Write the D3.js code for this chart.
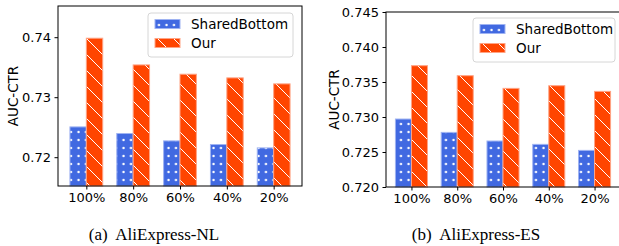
<!DOCTYPE html>
<html>
<head>
<meta charset="utf-8">
<script src="https://cdn.jsdelivr.net/npm/d3@7"></script>
<style>
  body { margin: 0; background: #fff; }
  svg { display: block; }
  text { font-family: "DejaVu Sans", sans-serif; fill: #000; }
</style>
</head>
<body>
<script>
var w = 619;
var h = 246;

var categories = ["100%", "80%", "60%", "40%", "20%"];
var seriesNames = ["SharedBottom", "Our"];

// AliExpress-NL
var nlShared = [0.72505, 0.72395, 0.72272, 0.72211, 0.72155];
var nlOur = [0.73983, 0.73538, 0.73383, 0.73322, 0.73222];
var nlTicks = [0.72, 0.73, 0.74];

// AliExpress-ES
var esShared = [0.72971, 0.7278, 0.72657, 0.72609, 0.72523];
var esOur = [0.73733, 0.7359, 0.73409, 0.73447, 0.73366];
var esTicks = [0.720, 0.725, 0.730, 0.735, 0.740, 0.745];

var blue = "#4169e1";
var orange = "#ff4500";

var svg = d3.select("body")
	.append("svg")
	.attr("width", w)
	.attr("height", h);

var defs = svg.append("defs");

// dot hatch
var dots = defs.append("pattern")
	.attr("id", "dots")
	.attr("patternUnits", "userSpaceOnUse")
	.attr("width", 7.5)
	.attr("height", 8);
dots.append("rect").attr("width", 7.5).attr("height", 8).attr("fill", blue);
dots.append("circle").attr("cx", 3.5).attr("cy", 4).attr("r", 1.2).attr("fill", "#fff");

// backslash hatch
var diag = defs.append("pattern")
	.attr("id", "diag")
	.attr("patternUnits", "userSpaceOnUse")
	.attr("width", 16)
	.attr("height", 16);
diag.append("rect").attr("width", 16).attr("height", 16).attr("fill", orange);
diag.append("path")
	.attr("d", "M-4,-4L20,20M-4,12L4,20M12,-4L20,4")
	.attr("stroke", "#fff")
	.attr("stroke-width", 1);

var fills = ["url(#dots)", "url(#diag)"];
var edges = ["#9fb3f2", "#ffa384"];

function panel(opt) {
	var x = d3.scalePoint()
		.domain(categories)
		.range([opt.left, opt.right])
		.padding(opt.pad);

	var y = d3.scaleLinear()
		.domain(opt.domain)
		.range([opt.bottom, opt.top]);

	var bw = x.step() * 0.35;
	var g = svg.append("g");

	var series = [opt.shared, opt.our];
	series.forEach(function(vals, s) {
		g.selectAll("rect.s" + s)
			.data(vals)
			.enter()
			.append("rect")
			.attr("x", function(d, i) {
				return x(categories[i]) - bw + s * bw;
			})
			.attr("y", function(d) { return y(d); })
			.attr("width", bw)
			.attr("height", function(d) { return opt.bottom - y(d); })
			.attr("fill", fills[s])
			.attr("stroke", edges[s])
			.attr("stroke-width", 1);
	});

	// frame
	g.append("rect")
		.attr("x", opt.left)
		.attr("y", opt.top)
		.attr("width", opt.right - opt.left)
		.attr("height", opt.bottom - opt.top)
		.attr("fill", "none")
		.attr("stroke", "#000")
		.attr("stroke-width", 1);

	var yAxis = d3.axisLeft(y)
		.tickValues(opt.ticks)
		.tickFormat(d3.format(opt.fmt))
		.tickSize(3.5)
		.tickPadding(3.5);
	g.append("g")
		.attr("transform", "translate(" + opt.left + ",0)")
		.call(yAxis)
		.call(function(a) {
			a.select(".domain").remove();
			a.selectAll("text").style("font-size", "13px").attr("font-family", "DejaVu Sans");
		});

	var xAxis = d3.axisBottom(x)
		.tickSize(3.5)
		.tickPadding(3.5);
	g.append("g")
		.attr("transform", "translate(0," + opt.bottom + ")")
		.call(xAxis)
		.call(function(a) {
			a.select(".domain").remove();
			a.selectAll("text").style("font-size", "13px").attr("font-family", "DejaVu Sans");
		});

	g.append("text")
		.attr("transform", "translate(" + opt.ylabX + "," + ((opt.top + opt.bottom) / 2) + ") rotate(-90)")
		.attr("text-anchor", "middle")
		.attr("dy", "0.35em")
		.style("font-size", "13.5px")
		.text("AUC-CTR");

	// legend
	var lg = g.append("g").attr("transform", "translate(" + opt.lx + "," + opt.ly + ")");
	lg.append("rect")
		.attr("width", opt.lw)
		.attr("height", 44)
		.attr("rx", 3)
		.attr("fill", "#fff")
		.attr("fill-opacity", 0.8)
		.attr("stroke", "#d6d6d6");
	seriesNames.forEach(function(name, s) {
		var cy = 11 + s * 19;
		lg.append("rect")
			.attr("x", 7)
			.attr("y", cy - 4.5)
			.attr("width", 25)
			.attr("height", 9)
			.attr("fill", fills[s])
			.attr("stroke", edges[s]);
		lg.append("text")
			.attr("x", 43)
			.attr("y", cy)
			.attr("dy", "0.35em")
			.style("font-size", "13.5px")
			.text(name);
	});

	svg.append("text")
		.attr("x", opt.capX)
		.attr("y", 240)
		.attr("text-anchor", "middle")
		.style("font-family", "'Liberation Serif', serif")
		.style("font-size", "17px")
		.attr("xml:space", "preserve")
		.text(opt.caption);
}

panel({
	left: 58, right: 302, top: 6, bottom: 186, pad: 0.605,
	domain: [0.7152, 0.7452], shared: nlShared, our: nlOur,
	ticks: nlTicks, fmt: ".2f", ylabX: 13,
	lx: 148, ly: 13, lw: 145,
	capX: 154, caption: "(a)  AliExpress-NL"
});

panel({
	left: 386, right: 620, top: 12, bottom: 187, pad: 0.556,
	domain: [0.720, 0.745], shared: esShared, our: esOur,
	ticks: esTicks, fmt: ".3f", ylabX: 334,
	lx: 473, ly: 18, lw: 142,
	capX: 476, caption: "(b)  AliExpress-ES"
});
</script>
</body>
</html>
